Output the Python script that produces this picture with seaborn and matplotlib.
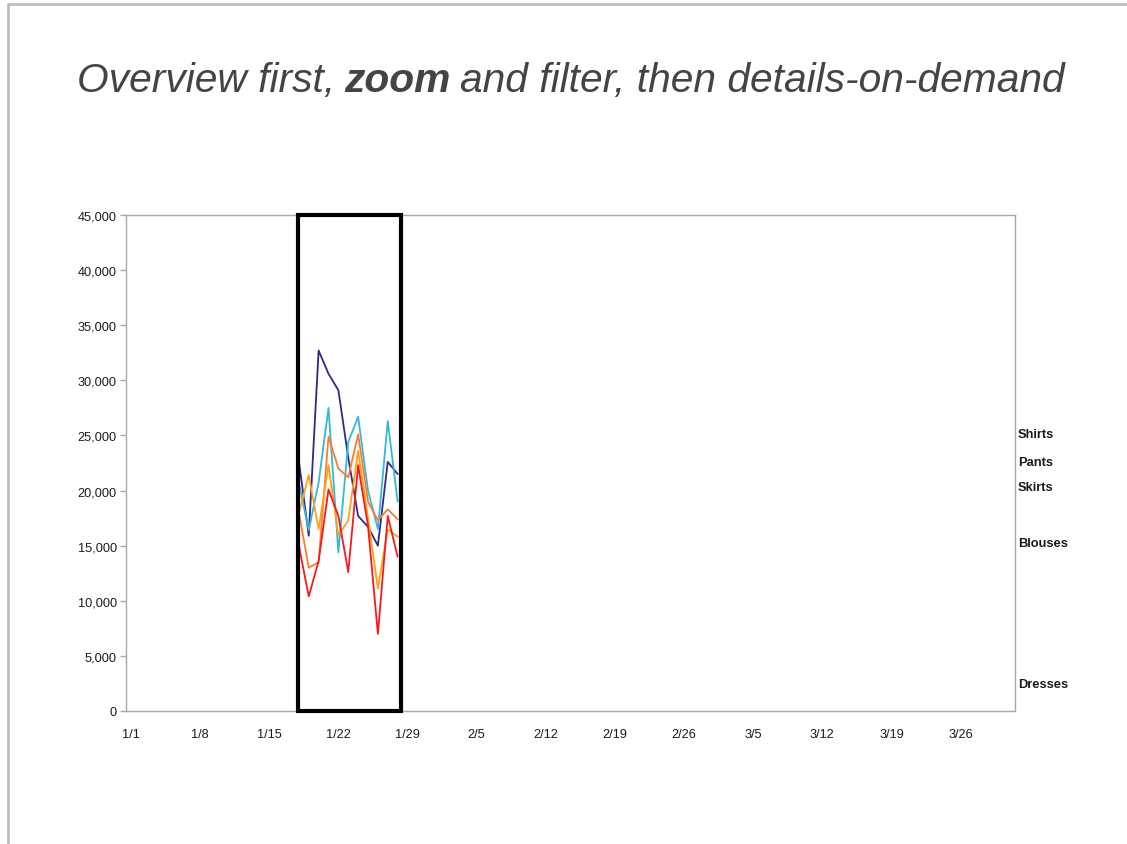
import matplotlib
matplotlib.use("Agg")
import matplotlib.pyplot as plt
import seaborn as sns
import pandas as pd
from matplotlib.patches import Rectangle
from matplotlib.lines import Line2D
from matplotlib.ticker import FuncFormatter, FixedLocator
from matplotlib.offsetbox import TextArea, HPacker, AnchoredOffsetbox

# ---------------- data ----------------
dates = ["1/18", "1/19", "1/20", "1/21", "1/22", "1/23",
         "1/24", "1/25", "1/26", "1/27", "1/28"]
shirts = [22700, 15900, 32700, 30600, 29100, 23000, 17700, 16700, 15000, 22600, 21500]
pants = [20700, 16400, 20700, 27500, 14400, 24400, 26700, 20000, 16500, 26300, 19000]
skirts = [18000, 13000, 13500, 24900, 22000, 21200, 25100, 19000, 17300, 18300, 17400]
blouses = [17900, 21400, 16500, 22300, 15900, 17300, 23600, 17500, 11100, 16500, 15800]
dresses = [15000, 10400, 13600, 20100, 17700, 12600, 22300, 16800, 7000, 17700, 14000]
series_names = ["Shirts", "Pants", "Skirts", "Blouses", "Dresses"]
label_values = [25100, 22600, 20300, 15200, 2450]
tick_labels = ["1/1", "1/8", "1/15", "1/22", "1/29", "2/5", "2/12", "2/19",
               "2/26", "3/5", "3/12", "3/19", "3/26"]
y_ticks = list(range(0, 45001, 5000))
year = 2007
n_days = 90

colors = {"Shirts": "#2D2A8C", "Pants": "#35B6DA", "Skirts": "#FF7A2E",
          "Blouses": "#FFA114", "Dresses": "#F5191E"}

def day_pos(s):
    d = pd.to_datetime(f"{year}/{s}", format="%Y/%m/%d")
    return (d - pd.Timestamp(year=year, month=1, day=1)).days + 0.5

values = [shirts, pants, skirts, blouses, dresses]
rows = []
for name, vals in zip(series_names, values):
    for d, v in zip(dates, vals):
        rows.append({"x": day_pos(d), "value": v, "series": name})
df = pd.DataFrame(rows)

# ---------------- style ----------------
sns.set_theme(style="white")
fam = ["Liberation Sans", "DejaVu Sans"]
plt.rcParams["font.family"] = fam

W, H = 1127, 845
fig = plt.figure(figsize=(W / 100, H / 100), dpi=100)
fig.patch.set_facecolor("white")
ax = fig.add_axes([126 / W, 1 - 712 / H, (1015 - 126) / W, (712 - 216) / H])

sns.lineplot(data=df, x="x", y="value", hue="series", palette=colors,
             hue_order=series_names, linewidth=1.3, legend=False, ax=ax)

ax.set_xlim(0, n_days)
ax.set_ylim(0, 45000)
ax.set_xlabel("")
ax.set_ylabel("")
ax.xaxis.set_major_locator(FixedLocator([day_pos(t) for t in tick_labels]))
ax.set_xticklabels(tick_labels)
ax.yaxis.set_major_locator(FixedLocator(y_ticks))
ax.yaxis.set_major_formatter(FuncFormatter(lambda v, p: f"{int(v):,}"))

for sp in ax.spines.values():
    sp.set_visible(True)
    sp.set_color("#A8A8A8")
    sp.set_linewidth(1.0)

ax.tick_params(axis="x", length=0, pad=12.5, labelsize=9.2, labelcolor="#1A1A1A")
ax.tick_params(axis="y", length=4, width=1, color="#A8A8A8", direction="out",
               left=True, pad=2.5, labelsize=9.2, labelcolor="#1A1A1A")

# zoom box around the focused range
x0 = day_pos(dates[0]) - 0.1
x1 = day_pos(dates[-1]) + 0.35
ax.add_patch(Rectangle((x0, 0), x1 - x0, 45000, fill=False, edgecolor="black",
                       linewidth=3.0, clip_on=False, zorder=5))

# right-side series labels
for name, yv in zip(series_names, label_values):
    ax.text(1.003, yv, name, transform=ax.get_yaxis_transform(),
            ha="left", va="center", fontsize=9.3, fontweight="bold",
            color="#1A1A1A")

# title with bold "zoom"
tkw = dict(fontsize=29.3, style="italic", color="#444444", family=fam)
parts = [TextArea("Overview first,", textprops=tkw),
         TextArea("zoom", textprops=dict(tkw, fontweight="bold")),
         TextArea("and filter, then details-on-demand", textprops=tkw)]
pack = HPacker(children=parts, align="baseline", pad=0, sep=6.5)
anch = AnchoredOffsetbox(loc="center", child=pack, pad=0, frameon=False,
                         bbox_to_anchor=(571 / W, 1 - 81 / H),
                         bbox_transform=fig.transFigure)
fig.add_artist(anch)

# slide frame lines
fig.add_artist(Line2D([8 / W, 1], [1 - 5 / H, 1 - 5 / H], transform=fig.transFigure,
                      color="#BDBDBD", linewidth=2))
fig.add_artist(Line2D([8 / W, 8 / W], [0, 1 - 5 / H], transform=fig.transFigure,
                      color="#BDBDBD", linewidth=2))

fig.savefig("out.png", dpi=100)
